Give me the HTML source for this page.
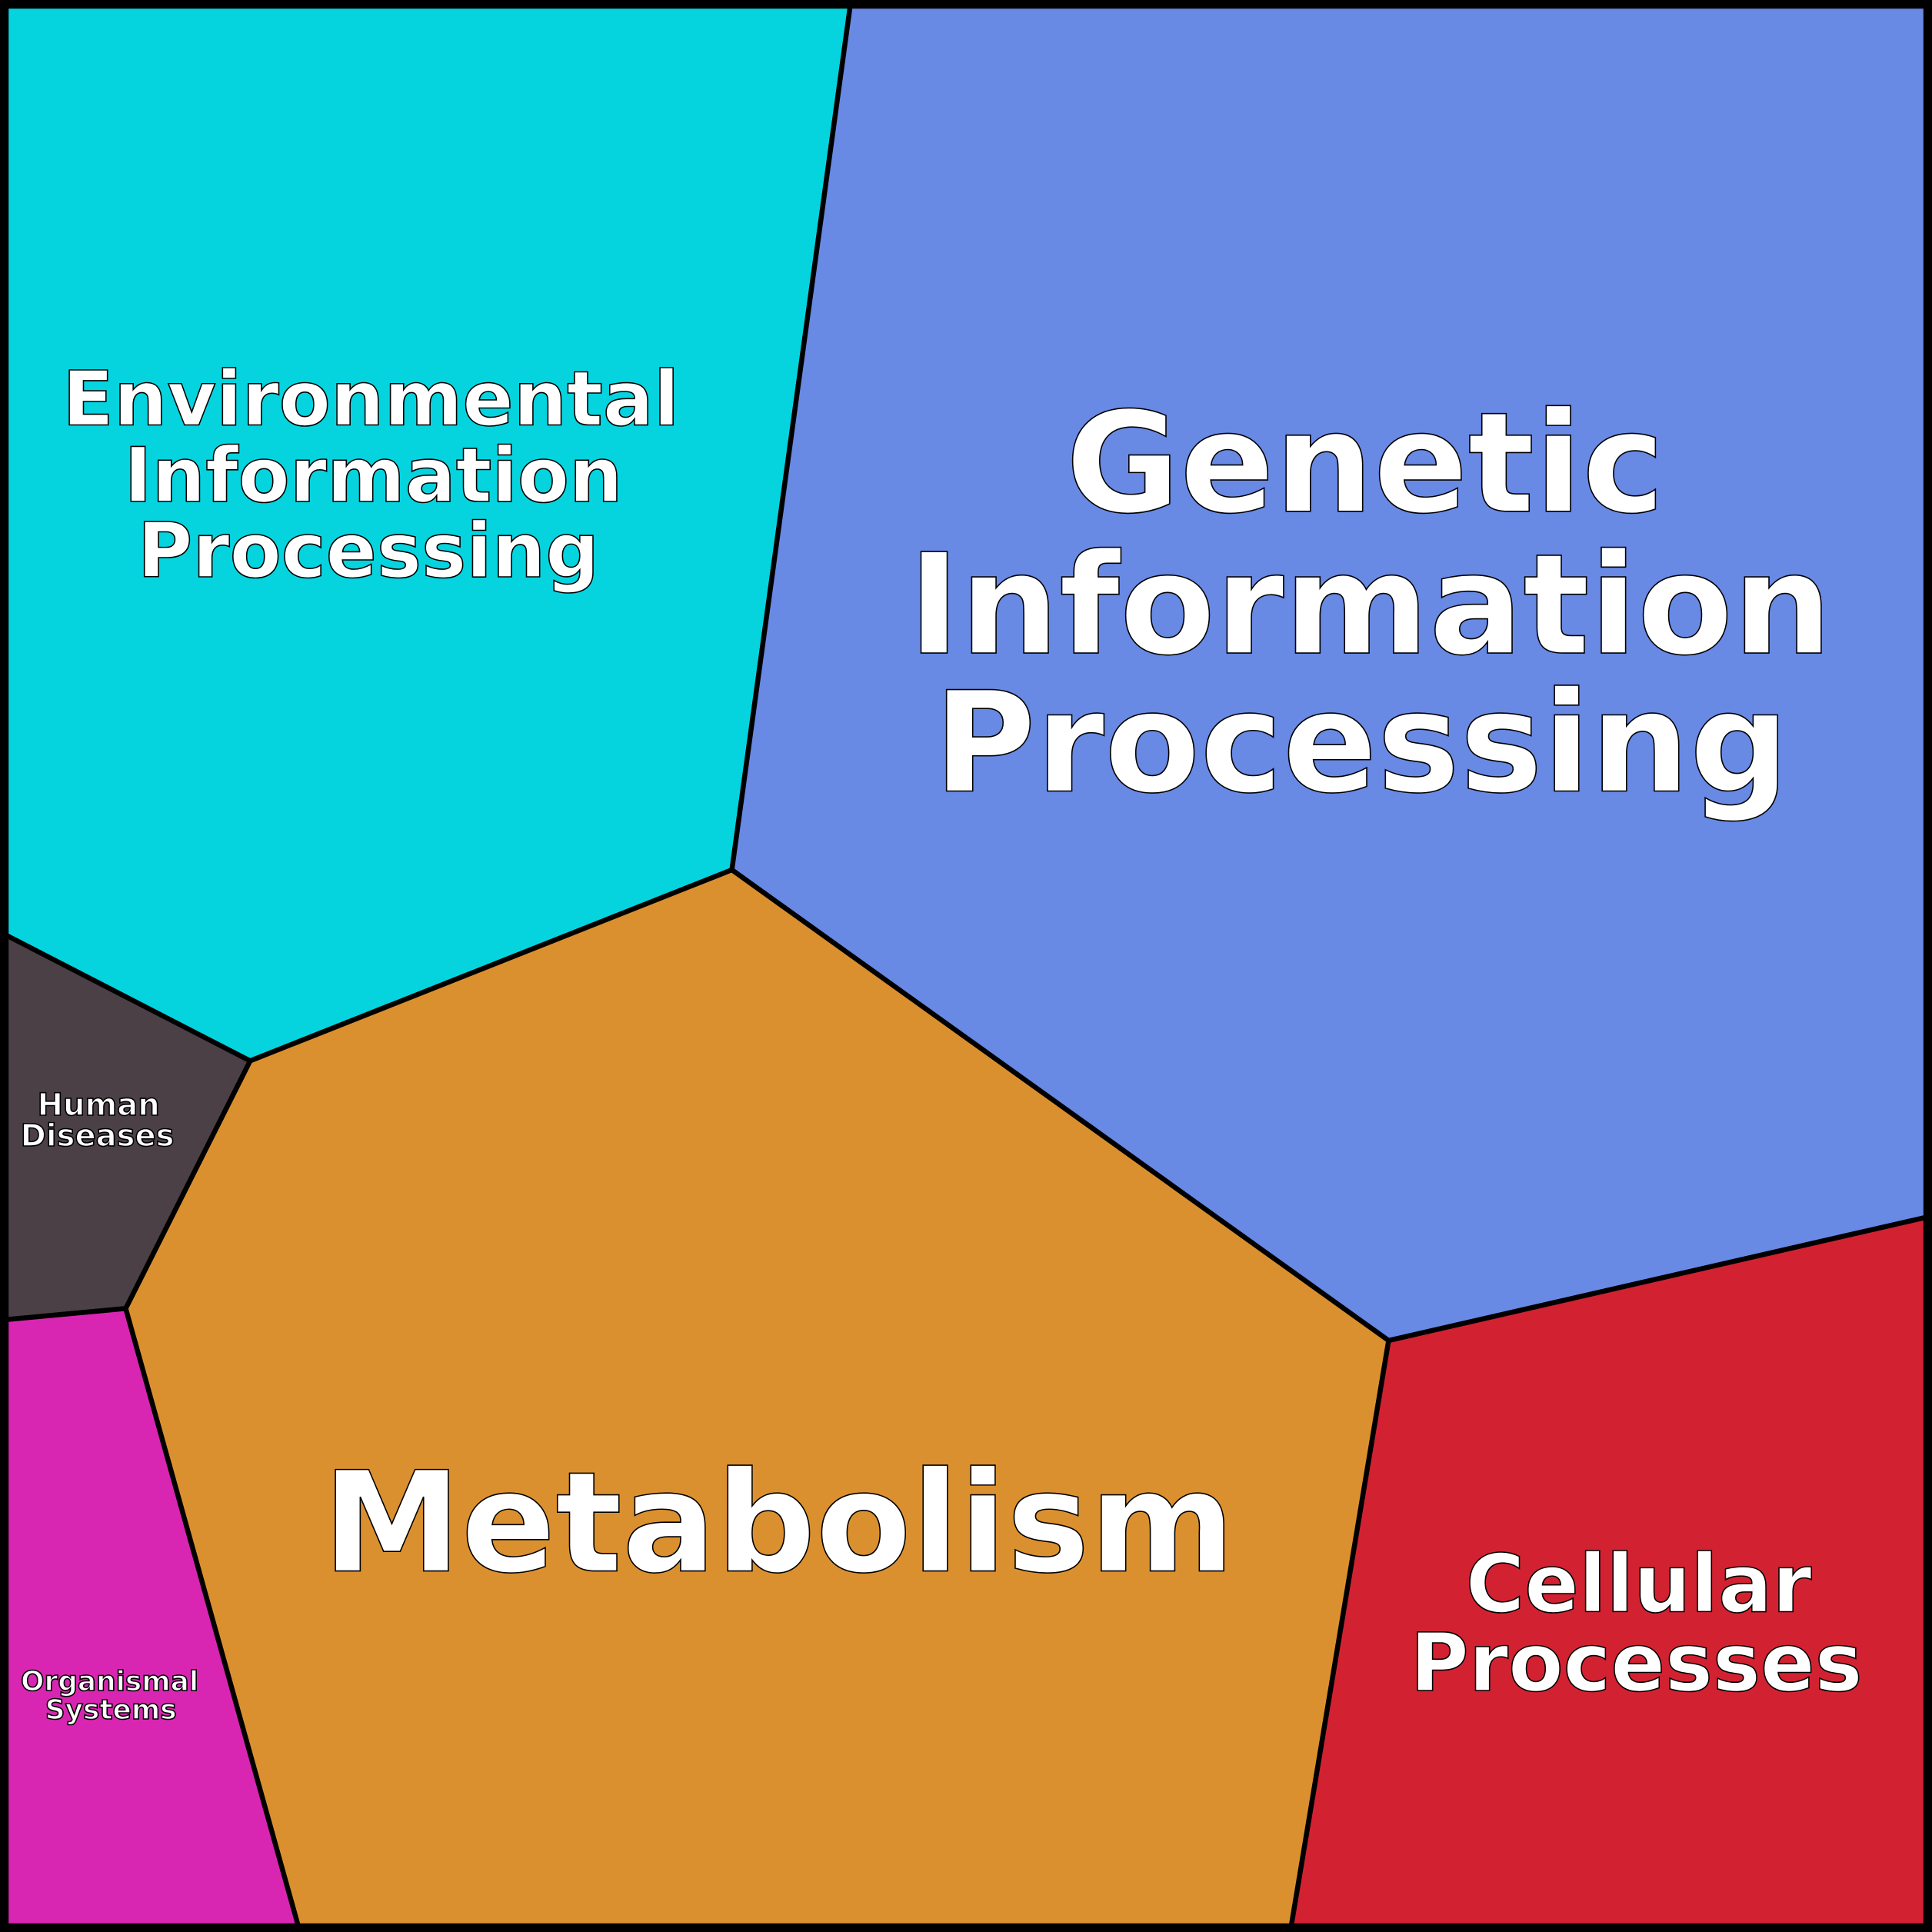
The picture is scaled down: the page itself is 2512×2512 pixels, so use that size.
<!DOCTYPE html>
<html><head><meta charset="utf-8"><style>html,body{margin:0;padding:0;background:#fff}svg{display:block}</style></head>
<body>
<svg width="2512" height="2512" viewBox="0 0 1568 1568" xmlns="http://www.w3.org/2000/svg">
<g stroke="#000" stroke-width="4" stroke-linejoin="round">
<polygon points="5,5 690,5 594,706 203,861 5,759" fill="#05d4df"/>
<polygon points="690,5 1563,5 1563,988 1127,1088 594,706" fill="#6889e4"/>
<polygon points="594,706 1127,1088 1048,1563 242,1563 102,1062 203,861" fill="#db902f"/>
<polygon points="1127,1088 1563,988 1563,1563 1048,1563" fill="#d22231"/>
<polygon points="5,759 203,861 102,1062 5,1071" fill="#4b4046"/>
<polygon points="5,1071 102,1062 242,1563 5,1563" fill="#d826b2"/>
</g>
<rect x="3" y="3" width="1562" height="1562" fill="none" stroke="#000" stroke-width="7"/>
<g font-family="'DejaVu Sans','Liberation Sans',sans-serif" font-weight="bold" fill="#fff" stroke="#000" stroke-width="1" text-anchor="middle">
<g font-size="61"><text x="301" y="345">Environmental</text><text x="303" y="407">Information</text><text x="299" y="468">Processing</text></g>
<g font-size="113"><text x="1108" y="415">Genetic</text><text x="1112" y="530">Information</text><text x="1105" y="642">Processing</text></g>
<text x="632" y="1275" font-size="113">Metabolism</text>
<g font-size="65"><text x="1330" y="1308">Cellular</text><text x="1328" y="1372">Processes</text></g>
<g font-size="25"><text x="80" y="905">Human</text><text x="79" y="930">Diseases</text></g>
<g font-size="22.4"><text x="89" y="1372">Organismal</text><text x="90" y="1395">Systems</text></g>
</g>
</svg>
</body></html>
